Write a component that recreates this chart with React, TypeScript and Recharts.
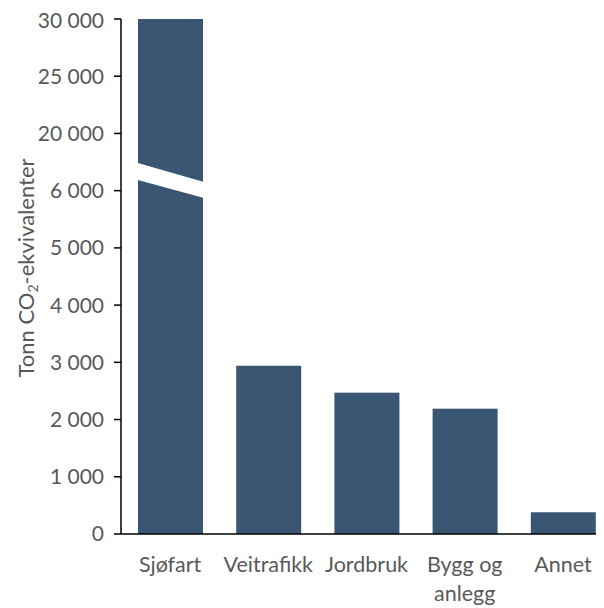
import React from 'react';
import { BarChart, Bar, XAxis, YAxis, Label } from 'recharts';

const categories = ['Sjøfart', 'Veitrafikk', 'Jordbruk', 'Bygg og anlegg', 'Annet'];
const emissions = [30000, 2940, 2470, 2190, 380];
const yTickValues = [0, 1000, 2000, 3000, 4000, 5000, 6000, 20000, 25000, 30000];

// broken axis: 0-6000 in steps of 1000, then 20000-30000 in steps of 5000
const toAxis = (v: number) => (v <= 6000 ? v / 1000 : 7 + (v - 20000) / 5000);

const data = categories.map((name, i) => ({
  name,
  value: emissions[i],
  display: toAxis(emissions[i]),
}));

const fmt = (v: number) => String(v).replace(/\B(?=(\d{3})+(?!\d))/g, ' ');
const textColor = '#595959';
const font = 'Lato, "Open Sans", sans-serif';

function BrokenBar(props: any) {
  const { x, y, width, height, fill, payload } = props;
  const base = y + height;
  const unit = height / payload.display;
  const py = (d: number) => base - d * unit;
  return (
    <g>
      <rect x={x} y={y} width={width} height={height} fill={fill} />
      {payload.display > 7 && (
        <polygon
          points={`${x - 1},${py(6.49)} ${x + width + 1},${py(6.15)} ${x + width + 1},${py(5.87)} ${x - 1},${py(6.19)}`}
          fill="#fff"
        />
      )}
    </g>
  );
}

function CategoryTick(props: any) {
  const { x, y, payload } = props;
  const label: string = payload.value;
  let lines = [label];
  if (label.length > 11 && label.includes(' ')) {
    const cut = label.lastIndexOf(' ');
    lines = [label.slice(0, cut), label.slice(cut + 1)];
  }
  return (
    <text x={x} y={y} textAnchor="middle" fill={textColor} fontSize={21.5} fontFamily={font}>
      {lines.map((l, i) => (
        <tspan key={i} x={x} dy={i === 0 ? 30 : 29}>
          {l}
        </tspan>
      ))}
    </text>
  );
}

export default function App() {
  return (
    <div style={{ width: 596, overflow: 'hidden' }}>
      <BarChart
        width={604}
        height={600}
        data={data}
        margin={{ top: 11, right: 0, bottom: 0, left: 0 }}
      >
        <XAxis
          dataKey="name"
          height={74}
          tickLine={false}
          axisLine={{ stroke: '#000', strokeWidth: 1.5 }}
          tick={<CategoryTick />}
          interval={0}
        />
        <YAxis
          width={113}
          domain={[0, 9]}
          ticks={yTickValues.map(toAxis)}
          tickFormatter={(v: number) => fmt(yTickValues[Math.round(v)])}
          tickSize={7}
          tickMargin={10}
          tickLine={{ stroke: '#000', strokeWidth: 1.5 }}
          axisLine={{ stroke: '#000', strokeWidth: 1.5 }}
          tick={{ fill: textColor, fontSize: 21, fontFamily: font }}
          allowDataOverflow
        >
          <Label
            content={() => (
              <text
                transform="translate(26, 260) rotate(-90)"
                textAnchor="middle"
                fill={textColor}
                fontSize={22}
                fontFamily={font}
              >
                Tonn CO
                <tspan fontSize={14} dy={4}>2</tspan>
                <tspan dy={-4}>-ekvivalenter</tspan>
              </text>
            )}
          />
        </YAxis>
        <Bar
          dataKey="display"
          fill="#3A5673"
          barSize={65}
          shape={<BrokenBar />}
          isAnimationActive={false}
        />
      </BarChart>
    </div>
  );
}
